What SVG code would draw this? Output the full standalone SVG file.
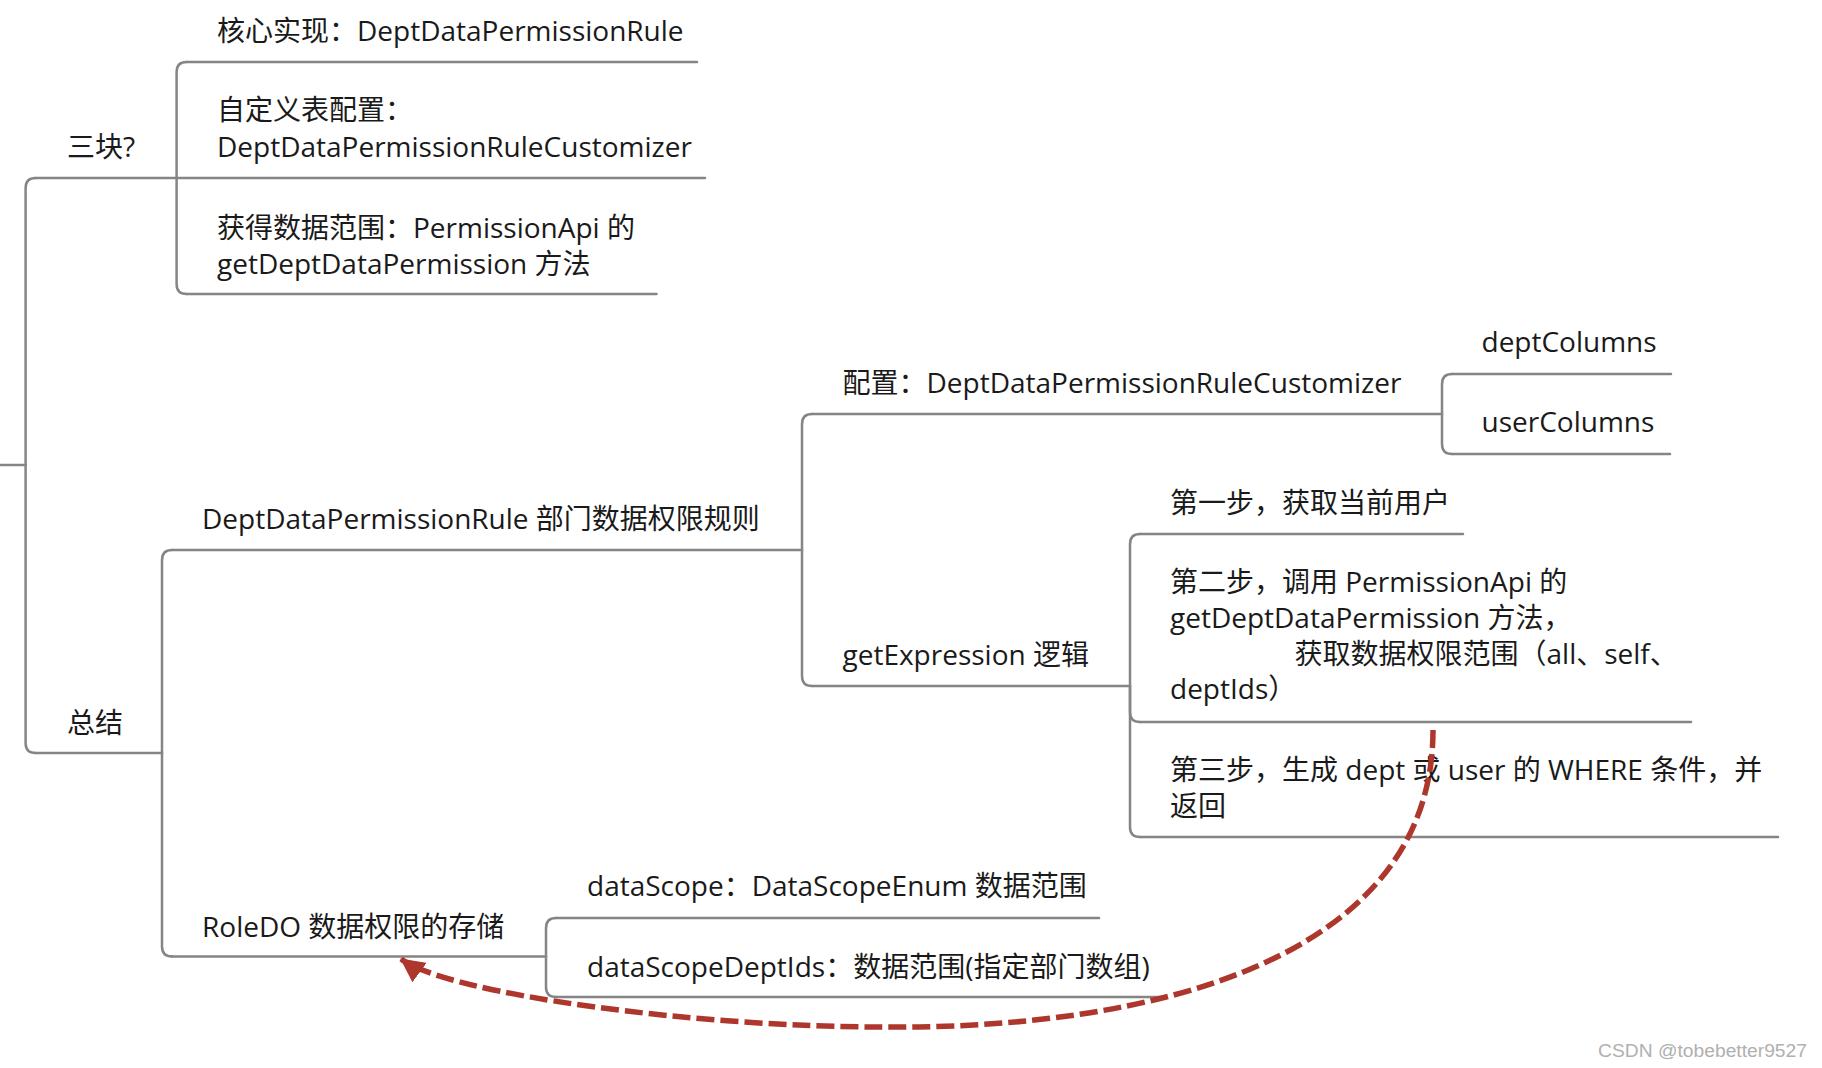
<svg xmlns="http://www.w3.org/2000/svg" width="1822" height="1068" viewBox="0 0 1822 1068">
<style>
  .t { font-family: "Open Sans", "Noto Sans CJK SC", sans-serif; font-size: 28px; fill: #1a1a1a; }
  .ul, .cn { fill: none; stroke: #858585; stroke-width: 2.5; stroke-linecap: round; }
  .rel { fill: none; stroke: #ad372d; stroke-width: 5.5; stroke-dasharray: 18 6; }
  .wm { font-family: "Liberation Sans", Arial, sans-serif; font-size: 18px; fill: #b0b0b0; }
</style>
<defs>
  <marker id="arrow" viewBox="0 0 24 24" refX="23" refY="12" markerWidth="24" markerHeight="24" markerUnits="userSpaceOnUse" orient="auto">
    <path d="M0 0 L24 12 L0 24 z" fill="#ad372d"/>
  </marker>
</defs>
<rect width="1822" height="1068" fill="#ffffff"/>

<g id="connectors">
  <path class="cn" d="M0 465 H25.6"/>
  <path class="cn" d="M25.6 465 V188 Q25.6 178 35.6 178"/>
  <path class="cn" d="M25.6 465 V743 Q25.6 753 35.6 753"/>
  <path class="cn" d="M176.6 178 V72 Q176.6 62 186.6 62"/>
  <path class="cn" d="M176.6 178 V284 Q176.6 294 186.6 294"/>
  <path class="cn" d="M162 753 V560 Q162 550 172 550"/>
  <path class="cn" d="M162 753 V946.5 Q162 956.5 172 956.5"/>
  <path class="cn" d="M802 550 V424 Q802 414 812 414"/>
  <path class="cn" d="M802 550 V676 Q802 686 812 686"/>
  <path class="cn" d="M1442 414 V384 Q1442 374 1452 374"/>
  <path class="cn" d="M1442 414 V444 Q1442 454 1452 454"/>
  <path class="cn" d="M1130 686 V544 Q1130 534 1140 534"/>
  <path class="cn" d="M1130 686 V712 Q1130 722 1140 722"/>
  <path class="cn" d="M1130 686 V827 Q1130 837 1140 837"/>
  <path class="cn" d="M546 956.5 V928 Q546 918 556 918"/>
  <path class="cn" d="M546 956.5 V987 Q546 997 556 997"/>
</g>

<g id="node-sankuai">
  <path class="ul" d="M35.6 178 H176.6"/>
  <text class="t" x="67" y="157">三块?</text>
</g>
<g id="node-hexin">
  <path class="ul" d="M186.6 62 H697"/>
  <text class="t" x="217" y="41">核心实现：DeptDataPermissionRule</text>
</g>
<g id="node-zidingyi">
  <path class="ul" d="M176.6 178 H705"/>
  <text class="t" x="217" y="120">自定义表配置：</text>
  <text class="t" x="217" y="157">DeptDataPermissionRuleCustomizer</text>
</g>
<g id="node-huode">
  <path class="ul" d="M186.6 294 H656.5"/>
  <text class="t" x="217" y="238">获得数据范围：PermissionApi 的</text>
  <text class="t" x="217" y="274">getDeptDataPermission 方法</text>
</g>
<g id="node-zongjie">
  <path class="ul" d="M35.6 753 H162"/>
  <text class="t" x="67" y="733">总结</text>
</g>
<g id="node-rule">
  <path class="ul" d="M172 550 H802"/>
  <text class="t" x="202" y="529">DeptDataPermissionRule 部门数据权限规则</text>
</g>
<g id="node-roledo">
  <path class="ul" d="M172 956.5 H546"/>
  <text class="t" x="202" y="937">RoleDO 数据权限的存储</text>
</g>
<g id="node-peizhi">
  <path class="ul" d="M812 414 H1442"/>
  <text class="t" x="842.5" y="393">配置：DeptDataPermissionRuleCustomizer</text>
</g>
<g id="node-getexpression">
  <path class="ul" d="M812 686 H1130"/>
  <text class="t" x="842.5" y="665">getExpression 逻辑</text>
</g>
<g id="node-deptcolumns">
  <path class="ul" d="M1452 374 H1671"/>
  <text class="t" x="1481.5" y="352">deptColumns</text>
</g>
<g id="node-usercolumns">
  <path class="ul" d="M1452 454 H1670"/>
  <text class="t" x="1481.5" y="432">userColumns</text>
</g>
<g id="node-step1">
  <path class="ul" d="M1140 534 H1463"/>
  <text class="t" x="1170" y="513">第一步，获取当前用户</text>
</g>
<g id="node-step2">
  <path class="ul" d="M1140 722 H1691"/>
  <text class="t" x="1170" y="592">第二步，调用 PermissionApi 的</text>
  <text class="t" x="1170" y="628">getDeptDataPermission 方法，</text>
  <text class="t" x="1294.5" y="664">获取数据权限范围（all、self、</text>
  <text class="t" x="1170" y="699">deptIds）</text>
</g>
<g id="node-step3">
  <path class="ul" d="M1140 837 H1778"/>
  <text class="t" x="1170" y="780">第三步，生成 dept 或 user 的 WHERE 条件，并</text>
  <text class="t" x="1170" y="816">返回</text>
</g>
<g id="node-datascope">
  <path class="ul" d="M556 918 H1099"/>
  <text class="t" x="587" y="896">dataScope：DataScopeEnum 数据范围</text>
</g>
<g id="node-datascopedeptids">
  <path class="ul" d="M556 997 H1163"/>
  <text class="t" x="587" y="977">dataScopeDeptIds：数据范围(指定部门数组)</text>
</g>

<g id="relationship">
  <path class="rel" d="M1433 730 C1433 960 1150 1030 880 1027 C700 1027 450 995 401 959" marker-end="url(#arrow)"/>
</g>

<text class="wm" x="1598" y="1057" textLength="209" lengthAdjust="spacingAndGlyphs">CSDN @tobebetter9527</text>
</svg>
